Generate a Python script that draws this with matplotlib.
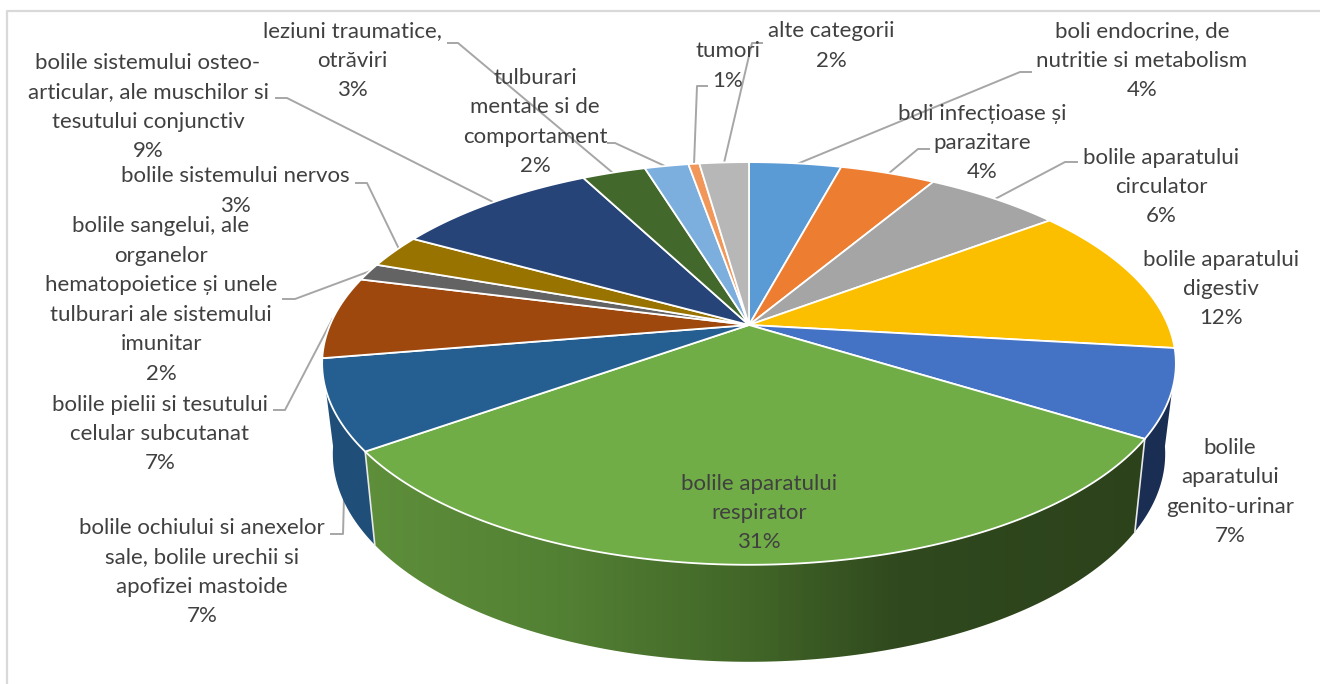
import numpy as np
import matplotlib
matplotlib.use('Agg')
import matplotlib.pyplot as plt
from matplotlib.colors import LinearSegmentedColormap
from matplotlib.patches import Polygon

# clockwise from 12 o'clock
categories = ['boli endocrine, de\nnutritie si metabolism',
              'boli infecțioase și\nparazitare',
              'bolile aparatului\ncirculator',
              'bolile aparatului\ndigestiv',
              'bolile\naparatului\ngenito-urinar',
              'bolile aparatului\nrespirator',
              'bolile ochiului si anexelor\nsale, bolile urechii si\napofizei mastoide',
              'bolile pielii si tesutului\ncelular subcutanat',
              'bolile sangelui, ale\norganelor\nhematopoietice și unele\ntulburari ale sistemului\nimunitar',
              'bolile sistemului nervos',
              'bolile sistemului osteo-\narticular, ale muschilor si\ntesutului conjunctiv',
              'leziuni traumatice,\notrăviri',
              'tulburari\nmentale si de\ncomportament',
              'tumori',
              'alte categorii']
values = [4.2, 4.35, 6.2, 12.1, 7.0, 31.3, 7.2, 6.6, 1.4, 2.7, 9.3, 2.9, 2.0, 0.5, 2.25]
percent_labels = ['4%', '4%', '6%', '12%', '7%', '31%', '7%', '7%', '2%', '3%', '9%', '3%', '2%', '1%', '2%']

colors = ['#5b9bd5', '#ed7d31', '#a5a5a5', '#fbbf00', '#4472c4', '#70ad47', '#255e91', '#9e480e',
          '#636363', '#997300', '#264478', '#43682b', '#7cafdd', '#f1975a', '#b7b7b7']

# wall colour for the slices that face the viewer
wall_colors = {4: '#1a2d52', 6: '#1f4e79'}

# label centres in pixels
label_pos = [(1142, 61), (982, 143), (1161, 187), (1221, 289), (1230, 492), (759, 513), (202, 572), (160, 434),
             (161, 300), (235, 191), (148, 107), (352, 61), (535, 122), (728, 66), (831, 46)]

leaders = [[(1032, 72), (1020, 72), (797, 164)],
           [(930, 149), (918, 149), (888, 174)],
           [(1078, 162), (1065, 162), (995, 199)],
           None, None, None,
           [(330, 534), (343, 534), (344, 497)],
           [(273, 410), (285, 410), (333, 318)],
           [(282, 299), (295, 299), (373, 270)],
           [(355, 183), (367, 183), (399, 249)],
           [(275, 98), (287, 98), (493, 202)],
           [(447, 43), (458, 43), (613, 173)],
           [(607, 143), (615, 143), (667, 167)],
           [(708, 86), (697, 86), (694, 165)],
           [(763, 43), (752, 43), (724, 163)]]

# tilted disc: apex of the slices and perspective terms
CX, CY = 749, 325
A, B, K = 194, 419, 0.191

# silhouette of the wall: where the tangent leaves the top and bottom rims (degrees below horizontal)
TANGENT_TOP = np.radians(18.4)
TANGENT_BOTTOM = np.radians(9)


def top_xy(theta):
    u, v = np.sin(theta), np.cos(theta)
    return CX + B * u / (1 + K * v), CY - A * v / (1 + K * v)


def bottom_xy(theta):
    x, y = top_xy(theta)
    return CX + 0.975 * (x - CX), y + 97 - 0.033 * (565 - y)


def arc(a0, a1):
    n = max(int(abs(a1 - a0) * 200), 2)
    return np.linspace(a0, a1, n)


def wall_polygon(top0, top1, bot0, bot1):
    xt, yt = top_xy(arc(top0, top1))
    xb, yb = bottom_xy(arc(bot1, bot0))
    return np.c_[np.r_[xt, xb], np.r_[yt, yb]]


plt.rcParams['font.family'] = ['Lato', 'DejaVu Sans']

fig = plt.figure(figsize=(13.2, 6.84), dpi=100)
ax = fig.add_axes([0, 0, 1, 1])
ax.axis('off')

# chart border, only left and top are in frame
ax.plot([7, 7, 1320], [684, 11, 11], color='#d9d9d9', lw=1.6, zorder=1)

for pts in leaders:
    if pts is not None:
        ax.plot(*zip(*pts), color='#a6a6a6', lw=1.4, zorder=2, solid_capstyle='butt')

edges = np.radians(np.r_[0, np.cumsum(values)] / sum(values) * 360)

green_cmap = LinearSegmentedColormap.from_list('green_side', [
    (0.0, '#5e8f3a'), (0.25, '#538134'), (0.5, '#416527'), (0.68, '#30491e'), (1.0, '#2c421b')])
xgrad = np.linspace(0, 1, 256).reshape(1, -1)

# outer wall: genito-urinar, respirator, ochi; the rest stays hidden
right = wall_polygon(np.pi / 2 + TANGENT_TOP, edges[5], np.pi / 2 + TANGENT_BOTTOM, edges[5])
left = wall_polygon(edges[6], 3 * np.pi / 2 - TANGENT_TOP, edges[6], 3 * np.pi / 2 - TANGENT_BOTTOM)
ax.add_patch(Polygon(right, closed=True, fc=wall_colors[4], ec='none', zorder=3))
ax.add_patch(Polygon(left, closed=True, fc=wall_colors[6], ec='none', zorder=3))
patch = Polygon(wall_polygon(edges[5], edges[6], edges[5], edges[6]), closed=True, fc='none', ec='none')
ax.add_patch(patch)
im = ax.imshow(xgrad, cmap=green_cmap, extent=[360, 1150, 670, 430], aspect='auto', zorder=3)
im.set_clip_path(patch)

# white seams either side of the green wall
for a in edges[5:7]:
    xt, yt = top_xy(a)
    xb, yb = bottom_xy(a)
    ax.plot([xt, xb], [yt, yb], color='#e8e8e8', lw=1.2, zorder=4)

# top face
for i in range(len(values)):
    x, y = top_xy(arc(edges[i], edges[i + 1]))
    ax.add_patch(Polygon(np.c_[np.r_[CX, x], np.r_[CY, y]], closed=True, fc=colors[i],
                         ec='white', lw=1.3, joinstyle='round', zorder=5))

for name, pct, (lx, ly) in zip(categories, percent_labels, label_pos):
    ax.text(lx, ly, name + '\n' + pct, ha='center', va='center', fontsize=16,
            color='#404040', linespacing=1.59, zorder=6)

ax.set_xlim(0, 1320)
ax.set_ylim(684, 0)

fig.savefig('out.png', dpi=100)
